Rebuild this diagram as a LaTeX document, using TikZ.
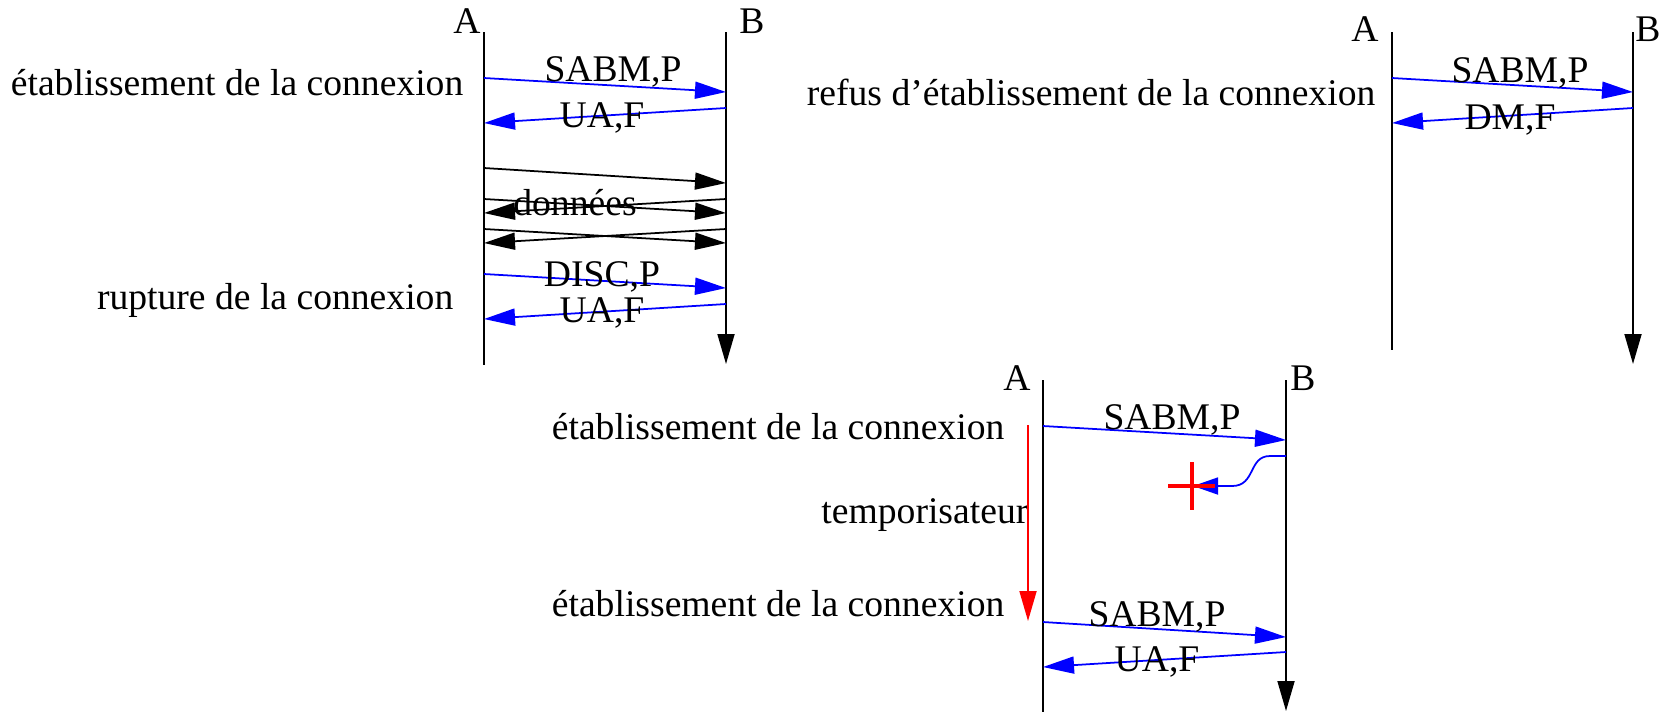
\documentclass[tikz,border=0pt]{standalone}
\usepackage{fontspec}
\setmainfont{Liberation Serif}
\usetikzlibrary{arrows.meta}

\tikzset{
  lifeline/.style={line width=0.5pt},
  timeline/.style={line width=0.5pt, -{Triangle[length=0.3cm,width=0.17cm]}},
  msg/.style={blue, line width=0.5pt, -{Triangle[length=0.31cm,width=0.17cm]}},
  datamsg/.style={black, line width=0.5pt, -{Triangle[length=0.31cm,width=0.17cm]}},
  txt/.style={font=\fontsize{10.7}{12}\selectfont, inner sep=0pt},
}

\begin{document}
\begin{tikzpicture}[x=0.01cm, y=-0.01cm]
% Keep the page size of the original
\useasboundingbox (0,0) rectangle (1664,714);

% First exchange: connection set up, data, release
\coordinate (lA1) at (484,32);
\coordinate (lB1) at (726,32);
\node[txt] (A1) at (467,21) {A};
\node[txt] (B1) at (752,21) {B};
\draw[lifeline] (lA1) -- (lA1 |- 0,365);
\draw[timeline] (lB1) -- (lB1 |- 0,364);
\node[txt, anchor=east] (etab1) at (464,83) {établissement de la connexion};
\node[txt, anchor=east] (rupt1) at (454,300) {rupture de la connexion};
\draw[msg] (lA1 |- 0,78) -- (lB1 |- 0,92);
\node[txt] (sabm1) at (613,72) {SABM,P};
\draw[msg] (lB1 |- 0,108) -- (lA1 |- 0,123);
\node[txt] (ua1) at (602,118) {UA,F};
\draw[datamsg] (lA1 |- 0,168) -- (lB1 |- 0,183);
\draw[datamsg] (lA1 |- 0,199) -- (lB1 |- 0,213);
\draw[datamsg] (lB1 |- 0,199) -- (lA1 |- 0,213);
\node[txt] (data1) at (575,203) {données};
\draw[datamsg] (lA1 |- 0,229) -- (lB1 |- 0,243);
\draw[datamsg] (lB1 |- 0,229) -- (lA1 |- 0,243);
\draw[msg] (lA1 |- 0,274) -- (lB1 |- 0,288);
\node[txt] (disc1) at (602,277) {DISC,P};
\draw[msg] (lB1 |- 0,304) -- (lA1 |- 0,319);
\node[txt] (ua2) at (602,313) {UA,F};

% Second exchange: refused connection
\coordinate (lA2) at (1392,32);
\coordinate (lB2) at (1633,32);
\node[txt] (A2) at (1365,29) {A};
\node[txt] (B2) at (1648,29) {B};
\draw[lifeline] (lA2) -- (lA2 |- 0,350);
\draw[timeline] (lB2) -- (lB2 |- 0,364);
\node[txt, anchor=east] (refus2) at (1376,92) {refus d'établissement de la connexion};
\draw[msg] (lA2 |- 0,78) -- (lB2 |- 0,92);
\node[txt] (sabm2) at (1520,73) {SABM,P};
\draw[msg] (lB2 |- 0,108) -- (lA2 |- 0,123);
\node[txt] (dm2) at (1510,120) {DM,F};

% Third exchange: lost answer and time-out
\coordinate (lA3) at (1043,380);
\coordinate (lB3) at (1286,380);
\node[txt] (A3) at (1017,378) {A};
\node[txt] (B3) at (1303,378) {B};
\draw[lifeline] (lA3) -- (lA3 |- 0,712);
\draw[timeline] (lB3) -- (lB3 |- 0,711);
\node[txt, anchor=east] (etab3) at (1005,427) {établissement de la connexion};
\node[txt, anchor=east] (tempo3) at (1029,515) {temporisateur};
\node[txt, anchor=east] (etab4) at (1005,604) {établissement de la connexion};
\coordinate (tA) at (1028,425);
\coordinate (tB) at (1028,621);
\draw[red, line width=0.5pt, -{Triangle[length=0.3cm,width=0.17cm]}] (tA) -- (tB);
\draw[msg] (lA3 |- 0,426) -- (lB3 |- 0,440);
\node[txt] (sabm3) at (1172,420) {SABM,P};
\coordinate (lost) at (1193,486);
\draw[msg, -{Triangle[length=0.25cm,width=0.17cm]}] (lB3 |- 0,456) -- (1270,456)
  .. controls (1248,456) and (1256,486) .. (1232,486) -- (lost);
\draw[red, line width=1.1pt] (1168,486) -- (1215,486);
\draw[red, line width=1.1pt] (1192,462) -- (1192,510);
\draw[msg] (lA3 |- 0,622) -- (lB3 |- 0,637);
\node[txt] (sabm4) at (1157,617) {SABM,P};
\draw[msg] (lB3 |- 0,652) -- (lA3 |- 0,667);
\node[txt] (ua3) at (1157,662) {UA,F};
\end{tikzpicture}
\end{document}
